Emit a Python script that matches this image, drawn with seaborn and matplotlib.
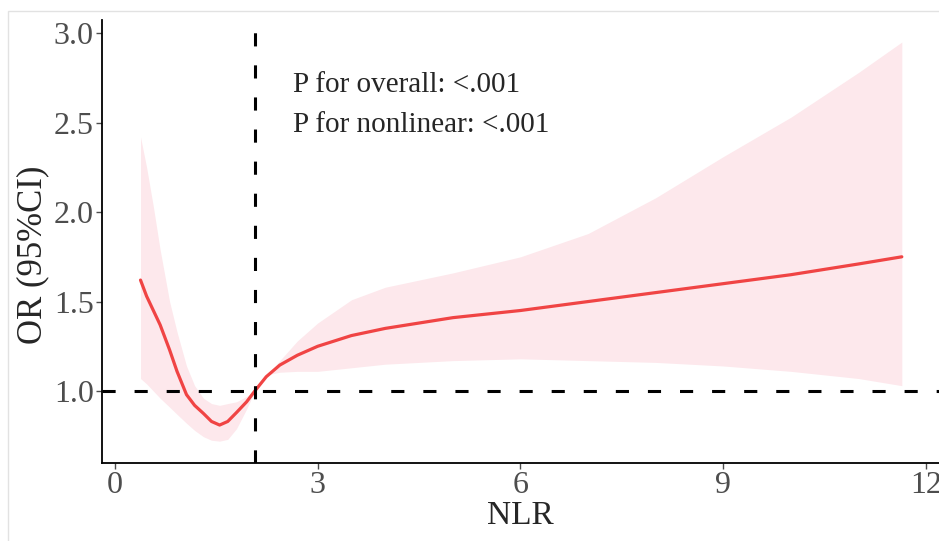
import numpy as np
import pandas as pd
import seaborn as sns
import matplotlib.pyplot as plt
from matplotlib.patches import Rectangle

# NLR values and the spline estimate with its 95% CI
nlr = [0.38, 0.47, 0.57, 0.67, 0.81, 0.92, 1.06, 1.18, 1.31, 1.43, 1.55, 1.67,
       1.80, 1.95, 2.07, 2.24, 2.44, 2.7, 3.0, 3.5, 4.0, 5.0, 6.0, 7.0, 8.0,
       9.0, 10.0, 11.0, 11.64]
odds = [1.62, 1.53, 1.45, 1.37, 1.23, 1.11, 0.98, 0.92, 0.875, 0.83, 0.81, 0.83,
        0.88, 0.94, 1.00, 1.08, 1.145, 1.20, 1.25, 1.31, 1.35, 1.41, 1.45, 1.50,
        1.55, 1.60, 1.65, 1.71, 1.75]
upper = [2.42, 2.25, 2.03, 1.79, 1.50, 1.33, 1.14, 1.03, 0.96, 0.93, 0.92, 0.93,
         0.94, 0.97, 1.00, 1.08, 1.17, 1.28, 1.38, 1.51, 1.58, 1.66, 1.75, 1.88,
         2.08, 2.31, 2.53, 2.78, 2.95]
lower = [1.07, 1.04, 1.00, 0.96, 0.91, 0.87, 0.82, 0.78, 0.745, 0.725, 0.72, 0.73,
         0.79, 0.90, 1.00, 1.09, 1.105, 1.11, 1.11, 1.13, 1.15, 1.17, 1.18, 1.17,
         1.16, 1.14, 1.11, 1.07, 1.03]

ref_nlr = 2.07
x_ticks = [0, 3, 6, 9, 12]
y_ticks = [1.0, 1.5, 2.0, 2.5, 3.0]
p_lines = ["P for overall: <.001", "P for nonlinear: <.001"]

df = pd.DataFrame({"NLR": nlr, "OR": odds, "lower": lower, "upper": upper})

sns.set_style("ticks")
plt.rcParams["font.family"] = ["Liberation Serif", "DejaVu Serif"]

fig = plt.figure(figsize=(9.39, 5.41), dpi=100)
ax = fig.add_axes([0.1086, 0.1442, 0.8914, 0.8188])

ax.fill_between(df["NLR"], df["lower"], df["upper"], color="#FDE8EC", lw=0)
sns.lineplot(data=df, x="NLR", y="OR", color="#F04444", lw=2.3, ax=ax)

ax.axhline(1.0, color="black", lw=2.2, dashes=(4.3, 6.2))
ax.axvline(ref_nlr, color="black", lw=2.2, dashes=(4.3, 6.2))

ax.text(2.63, 2.67, p_lines[0], fontsize=21, va="baseline")
ax.text(2.63, 2.447, p_lines[1], fontsize=21, va="baseline")

ax.set_xlim(-0.19, 12.19)
ax.set_ylim(0.598, 3.073)
ax.set_xticks(x_ticks)
ax.set_yticks(y_ticks)
ax.set_yticklabels([f"{v:.1f}" for v in y_ticks])
ax.tick_params(labelsize=23, labelcolor="#4D4D4D", color="#4D4D4D",
               length=4, width=1, pad=2)
ax.set_xlabel("NLR", fontsize=24, labelpad=0)
ax.set_ylabel("OR (95%CI)", fontsize=25, labelpad=4)
ax.yaxis.set_label_coords(-0.063, 0.47)

for side in ["top", "right"]:
    ax.spines[side].set_visible(False)
for side in ["left", "bottom"]:
    ax.spines[side].set_linewidth(1.3)
    ax.spines[side].set_color("black")

# faint screenshot frame
fig.patches.append(Rectangle((8 / 939, -0.2), 1.2, 1 - 11 / 541 + 0.2,
                             transform=fig.transFigure, fill=False,
                             edgecolor="#E2E2E2", lw=1, zorder=-1))

fig.savefig("out.png", dpi=100)
